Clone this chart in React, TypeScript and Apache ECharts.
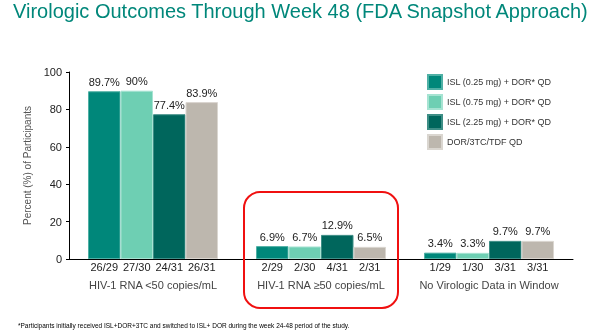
import React, { useEffect, useRef } from "react";
import * as echarts from "echarts";

const categories = ["HIV-1 RNA <50 copies/mL", "HIV-1 RNA \u226550 copies/mL", "No Virologic Data in Window"];
const seriesNames = ["ISL (0.25 mg) + DOR* QD", "ISL (0.75 mg) + DOR* QD", "ISL (2.25 mg) + DOR* QD", "DOR/3TC/TDF QD"];
const seriesValues = [
  [89.7, 6.9, 3.4],
  [90, 6.7, 3.3],
  [77.4, 12.9, 9.7],
  [83.9, 6.5, 9.7],
];
const seriesCounts = [
  ["26/29", "2/29", "1/29"],
  ["27/30", "2/30", "1/30"],
  ["24/31", "4/31", "3/31"],
  ["26/31", "2/31", "3/31"],
];
const yTicks = [0, 20, 40, 60, 80, 100];
const colors = ["#00877A", "#6ECFB3", "#00665C", "#BDB7AE"];
const borderColors = ["#4FB0A5", "#A6E3D2", "#3E8E86", "#DAD6D0"];

const title = "Virologic Outcomes Through Week 48 (FDA Snapshot Approach)";
const footnote = "*Participants initially received ISL+DOR+3TC and switched to ISL+ DOR during the week 24-48 period of the study.";

export default function App() {
  const ref = useRef<HTMLDivElement>(null);
  useEffect(() => {
    if (!ref.current) return;
    const chart = echarts.init(ref.current, null, { renderer: "svg" });
    const font = "Liberation Sans, Arial, sans-serif";
    const barWidth = 32.5;
    const main = seriesNames.map((name, i) => ({
      name,
      type: "bar",
      xAxisIndex: 0,
      data: seriesValues[i],
      barWidth,
      barGap: "0%",
      itemStyle: { color: colors[i], borderColor: borderColors[i], borderWidth: 1 },
      label: {
        show: true,
        position: "top",
        distance: 4,
        formatter: (p: any) => p.value + "%",
        color: "#222",
        fontSize: 11,
        fontFamily: font,
      },
    }));
    const counts = seriesNames.map((name, i) => ({
      name: name + " n",
      type: "bar",
      xAxisIndex: 1,
      data: seriesValues[i].map((v, j) => ({ value: v, count: seriesCounts[i][j] })),
      barWidth,
      barGap: "0%",
      itemStyle: { color: "rgba(0,0,0,0)" },
      silent: true,
      label: {
        show: true,
        position: "bottom",
        distance: 2,
        formatter: (p: any) => p.data.count,
        color: "#222",
        fontSize: 11,
        fontFamily: font,
      },
    }));
    chart.setOption({
      animation: false,
      title: {
        text: title,
        left: 13,
        top: 1,
        padding: 0,
        textStyle: { color: "#00877A", fontSize: 20, fontWeight: "normal", fontFamily: font },
      },
      legend: {
        data: seriesNames,
        orient: "vertical",
        left: 427,
        top: 74,
        padding: 0,
        itemWidth: 14,
        itemHeight: 14,
        itemGap: 4,
        icon: "rect",
        textStyle: { color: "#333", fontSize: 9, fontFamily: font, lineHeight: 12 },
      },
      grid: { left: 69, right: 27, top: 72, bottom: 73, containLabel: false },
      xAxis: [
        {
          type: "category",
          data: categories,
          axisLine: { show: true, lineStyle: { color: "#000", width: 1 } },
          axisTick: { show: false },
          axisLabel: { color: "#444", fontSize: 11, fontFamily: font, margin: 20, interval: 0 },
        },
        {
          type: "category",
          data: categories,
          show: false,
          position: "bottom",
        },
      ],
      yAxis: {
        type: "value",
        min: 0,
        max: 100,
        interval: 20,
        name: "Percent (%) of Participants",
        nameLocation: "middle",
        nameGap: 33,
        nameTextStyle: { color: "#555", fontSize: 10, fontFamily: font },
        axisLine: { show: true, lineStyle: { color: "#000", width: 1 } },
        axisTick: { show: true, length: 3, lineStyle: { color: "#000" } },
        splitLine: { show: false },
        axisLabel: {
          color: "#222",
          fontSize: 11,
          fontFamily: font,
          margin: 7,
          formatter: (v: number) => (yTicks.includes(v) ? String(v) : ""),
        },
      },
      graphic: [
        {
          type: "rect",
          shape: { x: 244, y: 192, width: 154, height: 116, r: 16 },
          style: { fill: "none", stroke: "#F01010", lineWidth: 2 },
          z: 10,
        },
        {
          type: "text",
          left: 18,
          top: 322,
          style: { text: footnote, fontSize: 6.5, fontFamily: "Liberation Sans Narrow, Arial Narrow, sans-serif", fill: "#000" },
        },
      ],
      series: [...main, ...counts],
    });
    return () => chart.dispose();
  }, []);
  return <div ref={ref} style={{ position: "fixed", left: 0, top: 0, width: 600, height: 332 }} />;
}
